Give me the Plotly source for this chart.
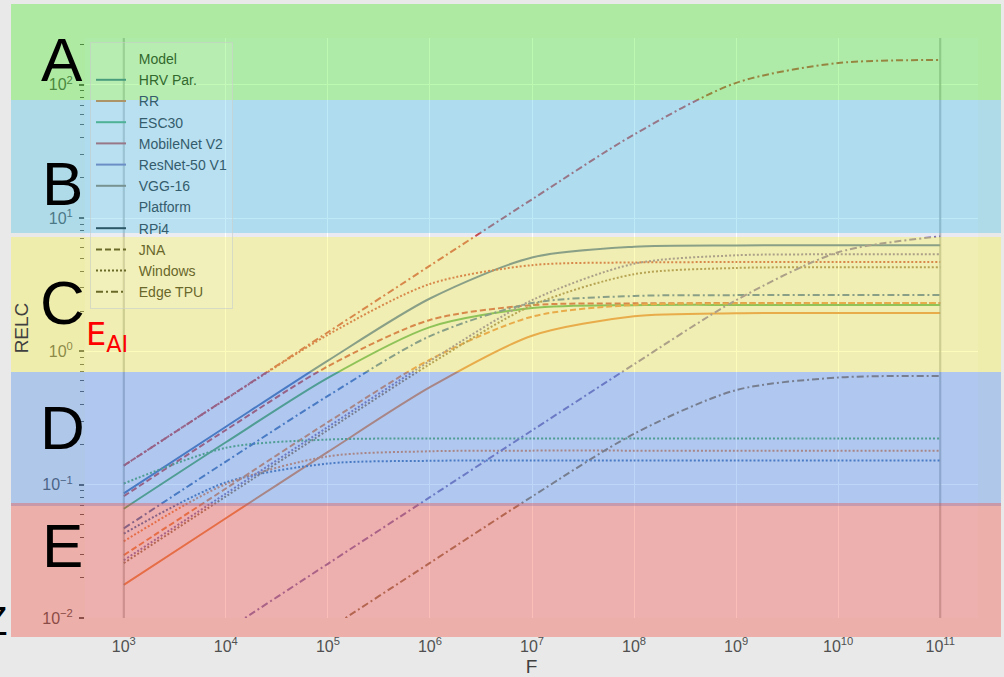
import plotly.graph_objects as go

# ---------------- data ----------------
F = [1e3, 1e4, 1e5, 1e6, 1e7, 1e8, 1e9, 1e10, 1e11]

models = ["HRV Par.", "RR", "ESC30", "MobileNet V2", "ResNet-50 V1", "VGG-16"]
platforms = ["RPi4", "JNA", "Windows", "Edge TPU"]

# RPi4 (solid)
hrv_rpi4 = [0.086, 0.272, 0.852, 2.49, 5.06, 6.09, 6.23, 6.25, 6.25]
esc_rpi4 = [0.066, 0.208, 0.633, 1.52, 2.11, 2.22, 2.23, 2.23, 2.23]
rr_rpi4 = [0.0177, 0.056, 0.176, 0.538, 1.31, 1.83, 1.93, 1.94, 1.94]
# JNA (dashed)
mob_jna = [0.082, 0.257, 0.772, 1.72, 2.22, 2.29, 2.30, 2.30, 2.30]
rr_jna = [0.0296, 0.0936, 0.294, 0.867, 1.82, 2.23, 2.29, 2.30, 2.30]
# Windows (dotted)
mob_win = [0.139, 0.438, 1.33, 3.20, 4.43, 4.64, 4.67, 4.67, 4.67]
esc_win = [0.102, 0.189, 0.218, 0.222, 0.222, 0.222, 0.222, 0.222, 0.222]
hrv_win = [0.043, 0.104, 0.144, 0.151, 0.152, 0.152, 0.152, 0.152, 0.152]
rr_win = [0.0376, 0.101, 0.163, 0.178, 0.180, 0.180, 0.180, 0.180, 0.180]
res_win = [0.0271, 0.0857, 0.271, 0.846, 2.42, 4.54, 5.25, 5.34, 5.35]
vgg_win = [0.0258, 0.0816, 0.257, 0.802, 2.21, 3.79, 4.22, 4.27, 4.28]
# Edge TPU (dash-dot)
mob_tpu = [0.139, 0.44, 1.39, 4.39, 13.8, 42.3, 103.2, 145.3, 153.0]
hrv_tpu = [0.047, 0.149, 0.463, 1.30, 2.30, 2.60, 2.64, 2.64, 2.64]
res_tpu = [0.00255, 0.00806, 0.0255, 0.0806, 0.255, 0.80, 2.42, 5.53, 7.28]
vgg_tpu = [0.00082, 0.00259, 0.0082, 0.0259, 0.0814, 0.241, 0.512, 0.636, 0.654]

series = [
    ("HRV Par.", "RPi4", hrv_rpi4),
    ("ESC30", "RPi4", esc_rpi4),
    ("RR", "RPi4", rr_rpi4),
    ("MobileNet V2", "JNA", mob_jna),
    ("RR", "JNA", rr_jna),
    ("MobileNet V2", "Windows", mob_win),
    ("ESC30", "Windows", esc_win),
    ("HRV Par.", "Windows", hrv_win),
    ("RR", "Windows", rr_win),
    ("ResNet-50 V1", "Windows", res_win),
    ("VGG-16", "Windows", vgg_win),
    ("MobileNet V2", "Edge TPU", mob_tpu),
    ("HRV Par.", "Edge TPU", hrv_tpu),
    ("ResNet-50 V1", "Edge TPU", res_tpu),
    ("VGG-16", "Edge TPU", vgg_tpu),
]

x_tick_exp = [3, 4, 5, 6, 7, 8, 9, 10, 11]
y_tick_exp = [-2, -1, 0, 1, 2]
band_labels = ["A", "B", "C", "D", "E"]

# ---------------- styles ----------------
colors = {
    "HRV Par.": "#4C72B0", "RR": "#DD8452", "ESC30": "#55A868",
    "MobileNet V2": "#C44E52", "ResNet-50 V1": "#8172B3", "VGG-16": "#937860",
}
dashes = {
    "RPi4": "solid", "JNA": "6px,3px", "Windows": "2px,2px",
    "Edge TPU": "7px,3px,2px,3px",
}
legend_line_colors = {
    "HRV Par.": "rgb(72,157,125)", "RR": "rgb(172,148,104)", "ESC30": "rgb(79,177,150)",
    "MobileNet V2": "rgb(151,119,136)", "ResNet-50 V1": "rgb(108,142,199)",
    "VGG-16": "rgb(119,146,145)",
    "RPi4": "rgb(43,87,102)", "JNA": "rgb(107,105,40)", "Windows": "rgb(107,105,40)",
    "Edge TPU": "rgb(107,105,40)",
}
TXT_GREEN, TXT_BLUE, TXT_YEL = "rgb(50,105,45)", "rgb(52,92,108)", "rgb(105,103,42)"
legend_text_colors = {
    "Model": TXT_GREEN, "HRV Par.": TXT_GREEN, "RR": TXT_BLUE, "ESC30": TXT_BLUE,
    "MobileNet V2": TXT_BLUE, "ResNet-50 V1": TXT_BLUE, "VGG-16": TXT_BLUE,
    "Platform": TXT_BLUE, "RPi4": TXT_BLUE, "JNA": TXT_YEL, "Windows": TXT_YEL,
    "Edge TPU": TXT_YEL,
}
FONT = "Liberation Sans, Arial, sans-serif"

fig = go.Figure()

for m, p, vals in series:
    fig.add_trace(go.Scatter(
        x=F, y=vals, mode="lines", showlegend=False,
        line=dict(color=colors[m], dash=dashes[p], width=2, shape="spline", smoothing=0.8),
        hoverinfo="skip",
    ))

def lname(n):
    return f"<span style='color:{legend_text_colors[n]}'>&nbsp;&nbsp;{n}</span>"

fig.add_trace(go.Scatter(x=[None], y=[None], mode="lines", name=lname("Model"),
                         line=dict(color="rgba(0,0,0,0)", width=0)))
for m in models:
    fig.add_trace(go.Scatter(x=[None], y=[None], mode="lines", name=lname(m),
                             line=dict(color=legend_line_colors[m], width=2)))
fig.add_trace(go.Scatter(x=[None], y=[None], mode="lines", name=lname("Platform"),
                         line=dict(color="rgba(0,0,0,0)", width=0)))
for p in platforms:
    fig.add_trace(go.Scatter(x=[None], y=[None], mode="lines", name=lname(p),
                             line=dict(color=legend_line_colors[p], width=2, dash=dashes[p])))

W, H = 1004, 677
# plot area in screen pixels
SL, SR, ST, SB = 85, 978, 38, 618
pw, ph = SR - SL, SB - ST

def px_x(x):
    return (x - SL) / pw

def px_y(y):
    return (SB - y) / ph

shapes = []
for e in (3, 11):
    shapes.append(dict(type="line", xref="x", yref="paper", x0=10 ** e, x1=10 ** e,
                       y0=0, y1=1, layer="above",
                       line=dict(color="rgba(120,125,135,0.55)", width=2)))

bands = [
    (4, 100, "rgba(65,237,31,0.35)"),
    (100, 233, "rgba(68,194,236,0.35)"),
    (237, 372, "rgba(251,245,59,0.35)"),
    (372, 506, "rgba(68,137,236,0.35)"),
    (503, 637, "rgba(245,68,53,0.35)"),
]
for y0, y1, c in bands:
    shapes.append(dict(type="rect", xref="paper", yref="paper",
                       x0=px_x(11), x1=px_x(1001), y0=px_y(y1), y1=px_y(y0),
                       fillcolor=c, line=dict(width=0), layer="above"))

annotations = []
letter_pos = [59, 183, 302, 427, 545]
for lab, yc in zip(band_labels, letter_pos):
    annotations.append(dict(text=lab, xref="paper", yref="paper", x=px_x(62), y=px_y(yc),
                            xanchor="center", yanchor="middle", showarrow=False,
                            font=dict(family=FONT, size=62, color="black")))
annotations.append(dict(text="E<sub>AI</sub>", xref="paper", yref="paper",
                        x=px_x(84), y=px_y(336), xanchor="left", yanchor="middle",
                        showarrow=False, font=dict(family="DejaVu Sans, sans-serif", size=32, color="red")))
annotations.append(dict(text="Z", xref="paper", yref="paper", x=px_x(-5), y=px_y(621),
                        xanchor="center", yanchor="middle", showarrow=False,
                        font=dict(family=FONT, size=40, color="black")))

minor_vals = [k * 10.0 ** e for e in range(-2, 3) for k in range(2, 10)]

fig.update_layout(
    width=W, height=H,
    margin=dict(l=SL, r=W - SR, t=ST, b=H - SB, autoexpand=False),
    paper_bgcolor="#e9e9e9", plot_bgcolor="#EAEAF2",
    font=dict(family=FONT, color="#444444"),
    shapes=shapes, annotations=annotations,
    showlegend=True,
    legend=dict(x=px_x(90), y=px_y(42), xanchor="left", yanchor="top",
                bgcolor="rgba(255,255,255,0.12)", bordercolor="rgba(200,205,200,0.6)",
                borderwidth=1, font=dict(family=FONT, size=14, color="#404848"),
                tracegroupgap=0, itemwidth=30),
    xaxis=dict(type="log", range=[2.62, 11.37], automargin=False,
               tickvals=[10 ** e for e in x_tick_exp],
               ticktext=[f"10<sup>{e}</sup>" for e in x_tick_exp],
               tickfont=dict(size=16, color="#505050"), ticklabelstandoff=17,
               showgrid=True, gridcolor="white", gridwidth=1,
               zeroline=False, showline=False, ticks="",
               title=dict(text="F", font=dict(size=19, color="#404040"), standoff=6)),
    yaxis=dict(type="log", range=[-2, 2.35], automargin=False,
               tickvals=[10 ** e for e in y_tick_exp],
               ticktext=[f"10<sup>{'−' if e < 0 else ''}{abs(e)}</sup>" for e in y_tick_exp],
               tickfont=dict(size=16, color="#505050"), ticklabelstandoff=3,
               ticks="outside", ticklen=5, tickwidth=1.5, tickcolor="#555555",
               minor=dict(tickvals=minor_vals, ticks="outside", ticklen=4, tickwidth=1,
                          tickcolor="#555555", showgrid=False),
               showgrid=True, gridcolor="white", gridwidth=1,
               zeroline=False, showline=False,
               title=dict(text="RELC", font=dict(size=19, color="#404040"), standoff=8)),
)

fig.write_html("out.html", config={"displayModeBar": False},
               post_script="document.body.style.margin='0px';")
